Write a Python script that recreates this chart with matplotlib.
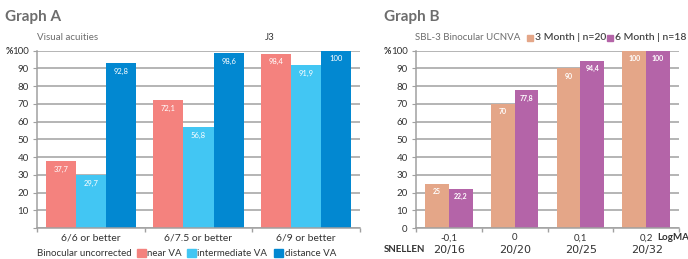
import matplotlib.pyplot as plt
import numpy as np

# Graph A data
groups_a = ['6/6 or better', '6/7.5 or better', '6/9 or better']
near_va = [37.7, 72.1, 98.4]
inter_va = [29.7, 56.8, 91.9]
dist_va = [92.8, 98.6, 100]

# Graph B data
logmar = ['-0,1', '0', '0,1', '0,2']
snellen = ['20/16', '20/20', '20/25', '20/32']
month3 = [25, 70, 90, 100]
month6 = [22.2, 77.8, 94.4, 100]

c_near, c_inter, c_dist = '#f4827e', '#42c6f3', '#0288d1'
c_m3, c_m6 = '#e4a688', '#b464a8'
grey = '#6d6d6d'
dark = '#333333'
grid = '#a0a0a0'

plt.rcParams['font.family'] = ['Lato', 'DejaVu Sans']

W, H = 688, 259
fig = plt.figure(figsize=(6.88, 2.59), dpi=100)


def fx(px):
    return px / W


def fy(py):
    return 1 - py / H


def label_bars(ax, x, vals, size=5.5, weight='normal'):
    for xi, v in zip(x, vals):
        s = ('%g' % v).replace('.', ',')
        ax.text(xi, v - 4.5, s, ha='center', va='center', color='white',
                fontsize=size, fontweight=weight)


def style_axes(ax, show_zero):
    ax.set_ylim(0, 100)
    ax.set_yticks(np.arange(0, 101, 10))
    lab = [str(i * 10) for i in range(11)]
    if not show_zero:
        lab[0] = ''
    ax.set_yticklabels(lab)
    ax.set_axisbelow(True)
    ax.yaxis.grid(True, color=grid, linewidth=1.1)
    for s in ['top', 'right']:
        ax.spines[s].set_visible(False)
    for s in ['left', 'bottom']:
        ax.spines[s].set_color(grid)
        ax.spines[s].set_linewidth(1.1)
    ax.tick_params(axis='y', length=3, color=grid, labelsize=7,
                   labelcolor=dark, pad=3)
    ax.tick_params(axis='x', length=3, color=grid, width=1, labelbottom=False)


# ---- Graph A ----
axA = fig.add_axes([fx(37), fy(228), fx(323), (228 - 50.7) / H])
xa = np.arange(3)
w = 0.28
axA.bar(xa - w, near_va, w, color=c_near)
axA.bar(xa, inter_va, w, color=c_inter)
axA.bar(xa + w, dist_va, w, color=c_dist)
axA.set_xlim(-0.5, 2.5)
axA.set_xticks([-0.5, 0.5, 1.5, 2.5])
style_axes(axA, False)
label_bars(axA, xa - w, near_va)
label_bars(axA, xa, inter_va)
label_bars(axA, xa + w, dist_va)
for xi, g in zip(xa, groups_a):
    axA.text(xi, -5.5, g, ha='center', va='center', fontsize=7.5, color=dark,
             clip_on=False)

# ---- Graph B ----
axB = fig.add_axes([fx(416), fy(228), fx(263), (228 - 50.7) / H])
xb = np.arange(4)
wb = 0.36
axB.bar(xb - wb / 2, month3, wb, color=c_m3)
axB.bar(xb + wb / 2, month6, wb, color=c_m6)
axB.set_xlim(-0.5, 3.5)
axB.set_xticks([-0.5, 0.5, 1.5, 2.5, 3.5])
style_axes(axB, True)
label_bars(axB, xb - wb / 2, month3, 5, 'bold')
label_bars(axB, xb + wb / 2, month6, 5, 'bold')
for xi, g, s in zip(xb, logmar, snellen):
    axB.text(xi, -5.5, g, ha='center', va='center', fontsize=7, color=dark,
             clip_on=False)
    fig.text(fx(416 + 66 * (xi + 0.5)), fy(250), s, ha='center', va='center',
             fontsize=8, color=dark, family='DejaVu Sans')

# ---- titles and annotations ----
fig.text(fx(5), fy(17), 'Graph A', fontsize=11, fontweight='bold',
         color=grey, va='center')
fig.text(fx(384), fy(17), 'Graph B', fontsize=11, fontweight='bold',
         color=grey, va='center')
fig.text(fx(37), fy(38), 'Visual acuities', fontsize=7, color=grey,
         va='center')
fig.text(fx(270), fy(38), 'J3', fontsize=7, color=dark, va='center',
         ha='center')
fig.text(fx(415), fy(38), 'SBL-3 Binocular UCNVA', fontsize=7, color=grey,
         va='center')
fig.text(fx(12.5), fy(51), '%', fontsize=6.5, color=dark, ha='right',
         va='center', fontweight='bold')
fig.text(fx(391.5), fy(51), '%', fontsize=6.5, color=dark, ha='right',
         va='center', fontweight='bold')

# legend B (top)
for px, lab, c in [(527, '3 Month | n=20', c_m3), (607, '6 Month | n=18', c_m6)]:
    fig.patches.append(plt.Rectangle((fx(px), fy(41)), fx(6), 6 / H,
                                     color=c, transform=fig.transFigure))
    fig.text(fx(px + 8), fy(38), lab, fontsize=7.5, color='#444444',
             va='center', fontweight='semibold')

# legend A (bottom)
fig.text(fx(37), fy(253), 'Binocular uncorrected', fontsize=7,
         color=dark, va='center')
for px, tx, lab, c in [(137, 147, 'near VA', c_near),
                       (187, 197, 'intermediate VA', c_inter),
                       (274, 285, 'distance VA', c_dist)]:
    fig.patches.append(plt.Rectangle((fx(px), fy(257)), fx(9), 8 / H,
                                     color=c, transform=fig.transFigure))
    fig.text(fx(tx), fy(253), lab, fontsize=7, color=dark, va='center')

fig.text(fx(384), fy(250), 'SNELLEN', fontsize=7, fontweight='bold',
         color=dark, va='center')
# cut at the right edge, as in the reference
fig.text(fx(657), fy(238), 'LogMAR', fontsize=7, fontweight='bold',
         color=dark, va='center')

fig.savefig('out.png', dpi=100)
